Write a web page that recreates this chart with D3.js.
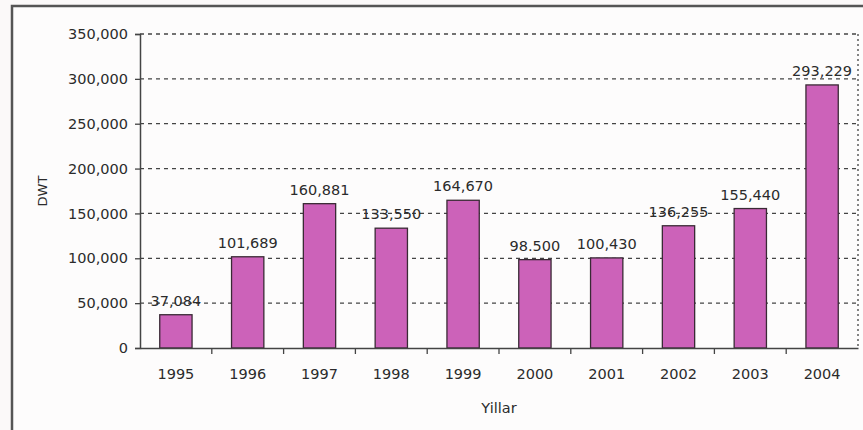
<!DOCTYPE html>
<html>
<head>
<meta charset="utf-8">
<script src="https://cdn.jsdelivr.net/npm/d3@7"></script>
<style>
  html, body { margin: 0; padding: 0; background: #fbf9f9; }
  svg { display: block; }
  text { font-family: "DejaVu Sans", sans-serif; fill: #2b2b2b; }
</style>
</head>
<body>
<svg id="chart" width="863" height="430"></svg>
<script>
const years = ["1995","1996","1997","1998","1999","2000","2001","2002","2003","2004"];
const dwt = [37084, 101689, 160881, 133550, 164670, 98500, 100430, 136255, 155440, 293229];
const valueLabels = ["37,084","101,689","160,881","133,550","164,670","98.500","100,430","136,255","155,440","293,229"];
const yTicks = [0, 50000, 100000, 150000, 200000, 250000, 300000, 350000];
const xTitle = "Yillar";
const yTitle = "DWT";

const svg = d3.select("#chart");
const pLeft = 140, pRight = 858, pTop = 34, pBottom = 348;

// outer frame
svg.append("rect").attr("x", 12).attr("y", 6).attr("width", 900).attr("height", 500)
  .attr("fill", "#fdfcfc").attr("stroke", "#555").attr("stroke-width", 2.5);

const x = d3.scaleBand().domain(years).range([pLeft, pRight]).paddingInner(0.55).paddingOuter(0.275);
const y = d3.scaleLinear().domain([0, 350000]).range([pBottom, pTop]);

// grid lines
svg.append("g").selectAll("line").data(yTicks.filter(d => d > 0)).join("line")
  .attr("x1", pLeft).attr("x2", pRight)
  .attr("y1", d => y(d)).attr("y2", d => y(d))
  .attr("stroke", "#444").attr("stroke-width", 1.3).attr("stroke-dasharray", "4,4");

// right dotted border
svg.append("line").attr("x1", pRight).attr("x2", pRight).attr("y1", y(350000)).attr("y2", pBottom)
  .attr("stroke", "#444").attr("stroke-width", 1.3).attr("stroke-dasharray", "2,3");

// bars
svg.append("g").selectAll("rect").data(dwt).join("rect")
  .attr("x", (d, i) => x(years[i]))
  .attr("y", d => y(d))
  .attr("width", x.bandwidth())
  .attr("height", d => y(0) - y(d))
  .attr("fill", "#cc62b9").attr("stroke", "#3a2a35").attr("stroke-width", 1.3);

// value labels
svg.append("g").selectAll("text").data(dwt).join("text")
  .attr("x", (d, i) => x(years[i]) + x.bandwidth() / 2)
  .attr("y", d => y(d) - 9)
  .attr("text-anchor", "middle")
  .style("font-size", "14.5px")
  .text((d, i) => valueLabels[i]);

// y axis
const yAxis = d3.axisLeft(y).tickValues(yTicks).tickFormat(d3.format(",")).tickSizeOuter(0).tickSize(5).tickPadding(7);
const gy = svg.append("g").attr("transform", `translate(${pLeft},0)`).call(yAxis);
gy.selectAll("text").style("font-size", "14.5px").attr("fill", "#2b2b2b");
gy.selectAll("line").attr("stroke", "#444").attr("stroke-width", 1.3);
gy.select(".domain").attr("stroke", "#444").attr("stroke-width", 1.5);

// x axis
const xAxis = d3.axisBottom(x).tickSize(0).tickPadding(21).tickSizeOuter(0);
const gx = svg.append("g").attr("transform", `translate(0,${pBottom})`).call(xAxis);
gx.selectAll("text").style("font-size", "14.5px").attr("fill", "#2b2b2b");
gx.select(".domain").attr("stroke", "#444").attr("stroke-width", 1.5);

// category boundary ticks below axis
const step = x.step();
svg.append("g").selectAll("line").data(years.slice(1)).join("line")
  .attr("x1", d => x(d) - step * 0.275).attr("x2", d => x(d) - step * 0.275)
  .attr("y1", pBottom).attr("y2", pBottom + 6)
  .attr("stroke", "#444").attr("stroke-width", 1.3);

// axis titles
svg.append("text").attr("x", (pLeft + pRight) / 2).attr("y", 413)
  .attr("text-anchor", "middle").style("font-size", "14.5px").text(xTitle);
svg.append("text").attr("transform", `translate(47,${(pTop + pBottom) / 2}) rotate(-90)`)
  .attr("text-anchor", "middle").style("font-size", "13px").text(yTitle);
</script>
</body>
</html>
